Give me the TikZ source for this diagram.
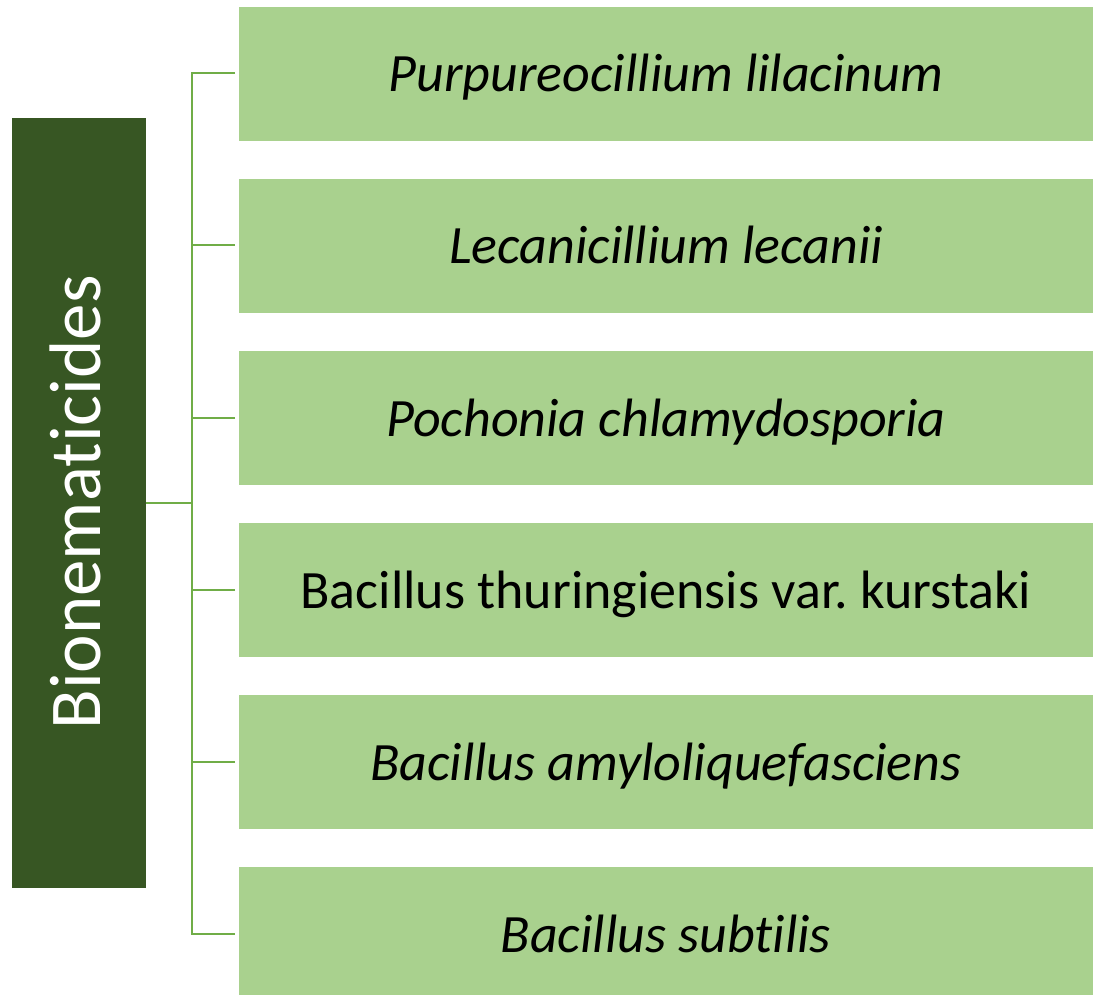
\documentclass[tikz,border=0pt]{standalone}
\usepackage{fontspec}
\setmainfont{Carlito}[Ligatures=NoCommon]
\usetikzlibrary{positioning}
\definecolor{leafgreen}{HTML}{A9D18E}
\definecolor{darkleaf}{HTML}{375623}
\definecolor{stemgreen}{HTML}{70AD47}
\frenchspacing

\begin{document}
\begin{tikzpicture}[x=1pt, y=1pt, node distance=172pt, on grid,
    species/.style={rectangle, fill=leafgreen, draw=white, line width=0.8pt,
        minimum width=855pt, minimum height=135pt, inner sep=0pt,
        text height=37pt, text depth=0pt,
        font=\fontsize{54}{60}\selectfont},
    root/.style={rectangle, fill=darkleaf, draw=white, line width=0.8pt,
        minimum width=771pt, minimum height=135pt, inner sep=0pt, rotate=90,
        text height=43pt, text depth=0pt,
        text=white, font=\fontsize{73}{80}\selectfont},
    branch/.style={stemgreen, line width=2pt}]
    \clip (0,0) rectangle (1093,-995);

    \node[root] (root) at (78.5,-502.5) {Bionematicides};

    \node[species] (s1) at (666,-73.5) {\itshape Purpureocillium lilacinum};
    \node[species] (s2) [below=of s1] {\itshape Lecanicillium lecanii};
    \node[species] (s3) [below=of s2] {\itshape Pochonia chlamydosporia};
    \node[species] (s4) [below=of s3] {Bacillus thuringiensis var. kurstaki};
    \node[species] (s5) [below=of s4] {\itshape Bacillus amyloliquefasciens};
    \node[species] (s6) [below=of s5] {\itshape Bacillus subtilis};

    % bracket from the root box to every species box
    \coordinate (trunk) at (192,-502.5);
    \draw[branch] (root.south) -- (trunk);
    \draw[branch, line cap=rect] (s1.west -| trunk) -- (s6.west -| trunk);
    \foreach \i in {1,...,6}
        \draw[branch, shorten <=3pt] (s\i.west) -- (s\i.west -| trunk);
\end{tikzpicture}
\end{document}
